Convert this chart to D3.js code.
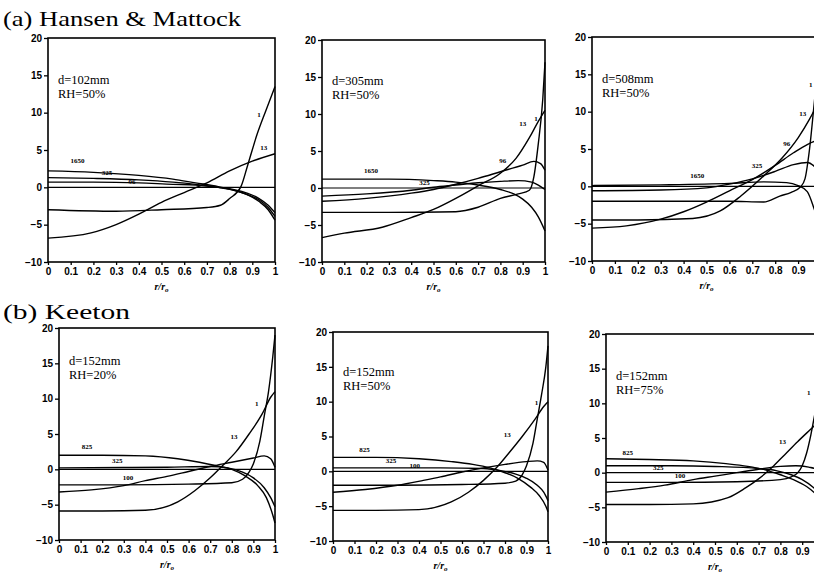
<!DOCTYPE html>
<html lang="en">
<head>
<meta charset="UTF-8">
<title>Stress profiles</title>
<style>
  body { margin: 0; background: #fff; }
  svg { display: block; font-family: "Liberation Serif", "DejaVu Serif", serif; }
  .tick text { font-size: 10px; font-weight: bold; fill: #000; }
  .tick line { stroke: #000; stroke-width: 1.3; }
</style>
</head>
<body>
<svg id="chart" width="814" height="573"></svg>
<script src="https://cdnjs.cloudflare.com/ajax/libs/d3/7.8.5/d3.min.js"></script>
<script>
// tick values shared by all six panels
const xTicks = [0, 0.1, 0.2, 0.3, 0.4, 0.5, 0.6, 0.7, 0.8, 0.9, 1];
const yTicks = [-10, -5, 0, 5, 10, 15, 20];

// (a) Hansen & Mattock, d=102mm
const hm102_1 = [[0,-3.0],[0.3,-3.2],[0.5,-3.0],[0.7,-2.7],[0.76,-2.4],[0.8,-1.5],[0.85,0.1],[0.88,3.0],[0.92,7.0],[0.96,10.3],[1.0,13.5]];
const hm102_13 = [[0,-6.8],[0.19,-6.1],[0.3,-5.0],[0.4,-3.6],[0.5,-2.0],[0.6,-0.7],[0.7,0.6],[0.8,2.2],[0.9,3.5],[1.0,4.5]];
const hm102_1650 = [[0,2.2],[0.2,2.0],[0.4,1.6],[0.55,1.1],[0.65,0.6],[0.75,0.1],[0.82,-0.4],[0.88,-1.0],[0.93,-1.9],[0.97,-3.0],[1.0,-4.4]];
const hm102_325 = [[0,1.3],[0.2,1.2],[0.4,1.0],[0.55,0.7],[0.65,0.4],[0.75,0.0],[0.82,-0.4],[0.88,-1.0],[0.93,-1.7],[0.97,-2.7],[1.0,-3.9]];
const hm102_96 = [[0,0.7],[0.2,0.7],[0.4,0.6],[0.55,0.4],[0.65,0.3],[0.75,0.0],[0.82,-0.3],[0.88,-0.8],[0.93,-1.5],[0.97,-2.4],[1.0,-3.4]];
const hm102Labels = [["1",0.93,9.4],["13",0.95,5.0],["1650",0.13,3.2],["325",0.26,1.7],["96",0.37,0.4]];

// (a) Hansen & Mattock, d=305mm
const hm305_1 = [[0,-3.3],[0.3,-3.3],[0.6,-3.2],[0.7,-2.6],[0.8,-1.4],[0.88,-0.8],[0.93,-0.3],[0.95,1.5],[0.97,6],[0.99,12],[1.0,17]];
const hm305_13 = [[0,-6.7],[0.1,-6.1],[0.27,-5.3],[0.4,-4.0],[0.5,-2.9],[0.6,-1.4],[0.7,0.3],[0.8,2.0],[0.87,4.0],[0.93,6.8],[0.97,9.0],[1.0,10.5]];
const hm305_1650 = [[0,1.2],[0.3,1.2],[0.5,1.0],[0.6,0.8],[0.7,0.4],[0.8,-0.2],[0.86,-0.8],[0.9,-1.5],[0.94,-2.6],[0.97,-3.9],[1.0,-5.8]];
const hm305_325 = [[0,-1.1],[0.2,-0.8],[0.4,-0.3],[0.5,0.1],[0.6,0.4],[0.7,0.7],[0.8,0.9],[0.88,1.0],[0.94,0.8],[0.97,0.4],[1.0,-0.2]];
const hm305_96 = [[0,-1.8],[0.2,-1.4],[0.4,-0.7],[0.5,-0.2],[0.6,0.5],[0.7,1.3],[0.8,2.2],[0.9,3.1],[0.95,3.6],[0.98,3.3],[1.0,2.4]];
const hm305Labels = [["1",0.96,9.0],["13",0.9,8.4],["1650",0.22,2.0],["325",0.46,0.45],["96",0.81,3.4]];

// (a) Hansen & Mattock, d=508mm
const hm508_1 = [[0,-2.0],[0.3,-2.0],[0.6,-2.0],[0.75,-2.1],[0.82,-1.3],[0.87,-0.8],[0.91,-0.1],[0.93,1],[0.95,5],[0.97,11],[0.99,17],[1.0,20]];
const hm508_13 = [[0,-4.5],[0.2,-4.5],[0.44,-4.3],[0.56,-3.3],[0.65,-1.3],[0.75,1.4],[0.83,3.8],[0.9,6.5],[0.95,9.0],[1.0,12]];
const hm508_96 = [[0,-5.6],[0.15,-5.3],[0.3,-4.4],[0.4,-3.4],[0.5,-2.1],[0.6,-0.6],[0.7,0.9],[0.8,2.8],[0.88,4.5],[0.94,5.6],[0.97,6.0],[1.0,6.2]];
const hm508_325 = [[0,-0.6],[0.3,-0.5],[0.5,-0.2],[0.6,0.3],[0.7,1.0],[0.8,2.0],[0.88,2.9],[0.94,3.2],[0.97,2.7],[1.0,1.5]];
const hm508_1650 = [[0,0.1],[0.3,0.2],[0.6,0.4],[0.75,0.6],[0.85,0.5],[0.9,0.1],[0.94,-0.7],[0.97,-3.0],[1.0,-6]];
const hm508Labels = [["1",0.955,13.3],["13",0.92,9.4],["96",0.85,5.4],["325",0.72,2.4],["1650",0.46,1.1]];

// (b) Keeton, d=152mm RH=20%
const k20_1 = [[0,-2.2],[0.3,-2.2],[0.6,-2.1],[0.8,-1.9],[0.85,-1.4],[0.88,-0.4],[0.9,0.8],[0.93,4],[0.95,7.5],[0.97,11],[0.99,16],[1.0,19]];
const k20_13 = [[0,-5.9],[0.2,-5.9],[0.4,-5.8],[0.55,-4.6],[0.63,-3.0],[0.7,-1.2],[0.76,0.6],[0.82,2.5],[0.88,5.0],[0.94,7.8],[0.98,10.2],[1.0,11.0]];
const k20_825 = [[0,2.0],[0.2,2.0],[0.4,1.9],[0.55,1.5],[0.65,1.0],[0.73,0.5],[0.8,0.0],[0.86,-0.9],[0.92,-2.3],[0.96,-4.0],[0.99,-6.5],[1.0,-7.6]];
const k20_325 = [[0,0.2],[0.3,0.25],[0.5,0.3],[0.7,0.4],[0.78,0.2],[0.85,-0.4],[0.9,-1.2],[0.95,-2.6],[0.98,-4.0],[1.0,-5.3]];
const k20_100 = [[0,-3.2],[0.15,-2.9],[0.3,-2.3],[0.4,-1.6],[0.5,-1.0],[0.6,-0.3],[0.7,0.4],[0.8,1.0],[0.9,1.6],[0.95,1.9],[0.98,1.5],[1.0,0.3]];
const k20Labels = [["1",0.915,9.0],["13",0.81,4.25],["825",0.13,2.9],["325",0.27,0.95],["100",0.32,-1.5]];

// (b) Keeton, d=152mm RH=50%
const k50_1 = [[0,-2.0],[0.3,-2.0],[0.6,-1.9],[0.8,-1.7],[0.85,-1.4],[0.88,-0.5],[0.9,0.8],[0.93,4],[0.95,7.5],[0.97,11],[0.99,15],[1.0,18]];
const k50_13 = [[0,-5.6],[0.2,-5.6],[0.4,-5.5],[0.55,-4.4],[0.63,-3.0],[0.7,-1.3],[0.76,0.5],[0.82,2.7],[0.88,5.0],[0.94,7.5],[0.98,9.3],[1.0,10.0]];
const k50_825 = [[0,2.0],[0.2,2.0],[0.4,1.8],[0.55,1.4],[0.65,1.0],[0.73,0.5],[0.8,-0.2],[0.86,-1.0],[0.92,-2.3],[0.96,-3.5],[0.99,-5.0],[1.0,-5.8]];
const k50_325 = [[0,0.5],[0.3,0.5],[0.5,0.5],[0.7,0.4],[0.78,0.1],[0.85,-0.4],[0.9,-1.0],[0.95,-2.0],[0.98,-3.0],[1.0,-4.2]];
const k50_100 = [[0,-3.0],[0.15,-2.6],[0.3,-2.0],[0.42,-1.3],[0.5,-0.8],[0.6,-0.1],[0.7,0.5],[0.8,1.0],[0.9,1.4],[0.95,1.5],[0.98,1.3],[1.0,0.2]];
const k50Labels = [["1",0.946,9.5],["13",0.81,5.0],["825",0.147,2.8],["325",0.27,1.25],["100",0.38,0.43]];

// (b) Keeton, d=152mm RH=75%
const k75_1 = [[0,-1.4],[0.3,-1.4],[0.6,-1.3],[0.8,-1.0],[0.85,-0.6],[0.88,0.0],[0.9,1.0],[0.92,2.8],[0.94,5.5],[0.96,8.8],[0.98,12],[1.0,16]];
const k75_13 = [[0,-4.6],[0.2,-4.6],[0.4,-4.5],[0.56,-3.6],[0.64,-2.2],[0.7,-0.9],[0.76,0.7],[0.82,2.6],[0.88,4.5],[0.94,6.3],[0.97,7.2],[1.0,8]];
const k75_825 = [[0,2.0],[0.2,1.9],[0.4,1.7],[0.55,1.3],[0.65,0.9],[0.73,0.4],[0.8,-0.3],[0.86,-1.0],[0.92,-2.0],[0.96,-3.0],[1.0,-4.3]];
const k75_325 = [[0,1.0],[0.3,1.0],[0.5,0.9],[0.7,0.6],[0.78,0.3],[0.85,-0.3],[0.9,-1.0],[0.95,-2.1],[1.0,-3.8]];
const k75_100 = [[0,-2.8],[0.15,-2.3],[0.27,-1.8],[0.4,-1.0],[0.5,-0.5],[0.6,0.0],[0.7,0.5],[0.8,0.9],[0.87,1.0],[0.93,0.8],[0.98,0.3],[1.0,-0.3]];
const k75Labels = [["1",0.93,11.2],["13",0.81,4.2],["825",0.10,2.6],["325",0.24,0.34],["100",0.34,-0.72]];

// panel boxes in page pixels
const panels = [
  {l: 48,  r: 275, t: 38,  b: 262, note: ["d=102mm", "RH=50%"], curves: [hm102_1, hm102_13, hm102_1650, hm102_325, hm102_96], labels: hm102Labels, noteY: 46},
  {l: 322, r: 545, t: 40,  b: 262, note: ["d=305mm", "RH=50%"], curves: [hm305_1, hm305_13, hm305_1650, hm305_325, hm305_96], labels: hm305Labels, noteY: 45},
  {l: 592, r: 821, t: 37,  b: 261, note: ["d=508mm", "RH=50%"], curves: [hm508_1, hm508_13, hm508_96, hm508_325, hm508_1650], labels: hm508Labels, noteY: 46},
  {l: 59,  r: 275, t: 328, b: 540, note: ["d=152mm", "RH=20%"], curves: [k20_1, k20_13, k20_825, k20_325, k20_100], labels: k20Labels, noteY: 37},
  {l: 333, r: 548, t: 332, b: 541, note: ["d=152mm", "RH=50%"], curves: [k50_1, k50_13, k50_825, k50_325, k50_100], labels: k50Labels, noteY: 44},
  {l: 606, r: 824, t: 334, b: 542, note: ["d=152mm", "RH=75%"], curves: [k75_1, k75_13, k75_825, k75_325, k75_100], labels: k75Labels, noteY: 46}
];

const W = 814;
const svg = d3.select("#chart");

svg.append("text").attr("x", 3).attr("y", 26)
  .attr("font-size", 22).attr("textLength", 238).attr("lengthAdjust", "spacingAndGlyphs")
  .text("(a)  Hansen & Mattock");
svg.append("text").attr("x", 3).attr("y", 319)
  .attr("font-size", 22).attr("textLength", 127).attr("lengthAdjust", "spacingAndGlyphs")
  .text("(b)  Keeton");

panels.forEach(p => {
  const x = d3.scaleLinear().domain([0, 1]).range([p.l, p.r]);
  const y = d3.scaleLinear().domain([-10, 20]).range([p.b, p.t]);
  const g = svg.append("g");

  // axes (the right-hand panels run off the page, like the scan)
  const xa = g.append("g").attr("transform", `translate(0,${p.b})`)
    .call(d3.axisBottom(x).tickValues(xTicks.filter(d => x(d) < W - 4)).tickSize(3).tickPadding(3)
      .tickFormat(d => d === 0 ? "0" : d === 1 ? "1" : d3.format(".1f")(d)));
  xa.select(".domain").remove();
  const ya = g.append("g").attr("transform", `translate(${p.l},0)`)
    .call(d3.axisLeft(y).tickValues(yTicks).tickSize(4).tickPadding(2));
  ya.select(".domain").remove();

  // frame and zero line
  g.append("rect").attr("x", p.l).attr("y", p.t)
    .attr("width", p.r - p.l).attr("height", p.b - p.t)
    .attr("fill", "none").attr("stroke", "#000").attr("stroke-width", 1.6);
  g.append("line").attr("x1", p.l).attr("x2", p.r)
    .attr("y1", y(0)).attr("y2", y(0))
    .attr("stroke", "#000").attr("stroke-width", 1.1);

  const line = d3.line().x(d => x(d[0])).y(d => y(d[1])).curve(d3.curveMonotoneX);
  g.append("g").selectAll("path").data(p.curves).join("path")
    .attr("d", line).attr("fill", "none")
    .attr("stroke", "#000").attr("stroke-width", 1.4);

  g.append("g").selectAll("text").data(p.labels).join("text")
    .attr("x", d => x(d[1])).attr("y", d => y(d[2]))
    .attr("text-anchor", "middle").attr("font-size", 7).attr("font-weight", "bold")
    .attr("fill", "#000")
    .text(d => d[0]);

  // case note
  const note = g.append("text").attr("font-size", 12.5);
  note.selectAll("tspan").data(p.note).join("tspan")
    .attr("x", p.l + 10).attr("y", (d, i) => p.t + p.noteY + i * 14)
    .text(d => d);

  // r/r0 axis title
  const xt = g.append("text").attr("x", (p.l + p.r) / 2).attr("y", p.b + 28)
    .attr("text-anchor", "middle").attr("font-size", 10)
    .attr("font-style", "italic").attr("font-weight", "bold");
  xt.append("tspan").text("r/r");
  xt.append("tspan").attr("dy", 2).attr("font-size", 7).text("o");
});
</script>
</body>
</html>
